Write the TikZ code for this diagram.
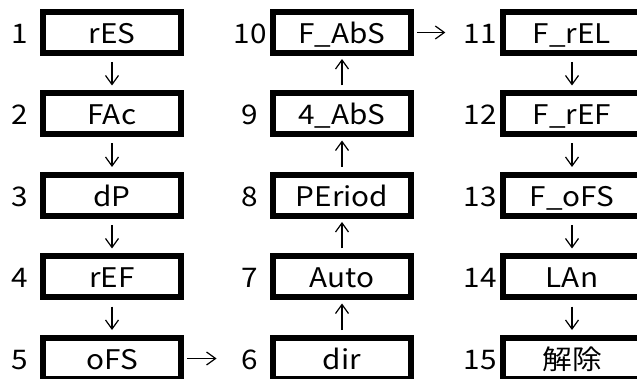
\documentclass[tikz,border=0pt]{standalone}
\usepackage{fontspec}
\setmainfont[FakeStretch=1.1]{Noto Sans CJK JP}
\usetikzlibrary{arrows.meta,positioning}

\begin{document}
\begin{tikzpicture}[
    x=1pt, y=-1pt,
    node distance=34.5pt and 86pt,
    box/.style={draw, line width=6pt, minimum width=138pt, minimum height=41pt, inner sep=0pt,
      text height=21.5pt, text depth=0pt, font=\fontsize{27}{30}\selectfont},
    num/.style={inner sep=0pt, text height=21.5pt, text depth=0pt, font=\fontsize{27}{30}\selectfont},
    arr/.style={-{Straight Barb[length=9pt,width=13pt]}, line width=1.2pt},
    down/.style={arr, shorten <=6pt, shorten >=5pt},
    up/.style={arr, shorten <=5pt, shorten >=3pt}
  ]
    \useasboundingbox (0,0) rectangle (637,379);
    \node[box] (b1) at (112,32.5) {rES};
    \node[box,below=of b1] (b2) {FAc};
    \node[box,below=of b2] (b3) {dP};
    \node[box,below=of b3] (b4) {rEF};
    \node[box,below=of b4] (b5) {oFS};
    \node[box,right=of b5] (b6) {dir};
    \node[box,above=of b6] (b7) {Auto};
    \node[box,above=of b7] (b8) {PEriod};
    \node[box,above=of b8] (b9) {4\_AbS};
    \node[box,above=of b9] (b10) {F\_AbS};
    \node[box,right=of b10] (b11) {F\_rEL};
    \node[box,below=of b11] (b12) {F\_rEF};
    \node[box,below=of b12] (b13) {F\_oFS};
    \node[box,below=of b13] (b14) {LAn};
    \node[box,below=of b14] (b15) {解除};
    \foreach \i in {1,...,15}
      \node[num] (n\i) at ([xshift=-20pt]b\i.west) {\i};
    \draw[down] (b1) -- (b2);
    \draw[down] (b2) -- (b3);
    \draw[down] (b3) -- (b4);
    \draw[down] (b4) -- (b5);
    \draw[arr, shorten <=3pt, shorten >=25pt] (b5) -- (n6);
    \draw[up] (b6) -- (b7);
    \draw[up] (b7) -- (b8);
    \draw[up] (b8) -- (b9);
    \draw[up] (b9) -- (b10);
    \draw[arr, shorten <=3pt, shorten >=18pt] (b10) -- (n11);
    \draw[down] (b11) -- (b12);
    \draw[down] (b12) -- (b13);
    \draw[down] (b13) -- (b14);
    \draw[down] (b14) -- (b15);
  \end{tikzpicture}
\end{document}
